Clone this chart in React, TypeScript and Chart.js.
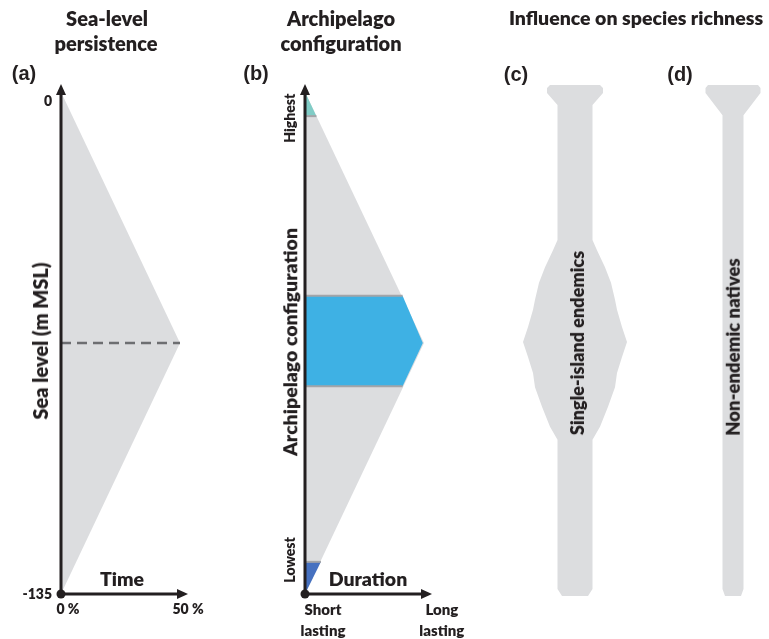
import React, { useEffect, useRef } from "react";
import { Chart, registerables } from "chart.js";

Chart.register(...registerables);

// ---------------- data ----------------
// (a) Sea-level persistence: % of time spent at each sea level (m MSL)
const seaLevelTicks = [0, -135];
const seaLevelTickLabels = ["0", "-135"];
const timeTicks = [0, 50];
const timeTickLabels = ["0 %", "50 %"];
const persistenceTime = [0, 0, 50];
const persistenceLevel = [-135, 0, -67.5];
const meanLevelTime = [0, 50];
const meanLevel = [-67.5, -67.5];

// (b) Archipelago configuration (0 = lowest, 1 = highest) vs duration (0 = short, 1 = long)
const configTickValues = [0.068, 0.948];
const configTickLabels = ["Lowest", "Highest"];
const durationTickValues = [0, 1.15];
const durationTickLabels = [
  ["Short", "lasting"],
  ["Long", "lasting"],
];
const allConfigDuration = [0, 0, 1];
const allConfigLevel = [0, 1, 0.5];
const highestDuration = [0, 0, 0.096];
const highestLevel = [0.952, 1, 0.952];
const intermediateDuration = [0, 0, 0.82, 0.99, 0.82];
const intermediateLevel = [0.414, 0.594, 0.594, 0.5, 0.414];
const lowestDuration = [0, 0, 0.134];
const lowestLevel = [0, 0.064, 0.064];
const boundaryLevels = [0.064, 0.414, 0.594, 0.952];
const boundaryDurations = [0.134, 0.82, 0.82, 0.096];

// (c) Single-island endemics: half-width of richness profile along configuration
const endemicLevel = [1.014, 1.008, 0.998, 0.974, 0.705, 0.685, 0.651, 0.62, 0.586, 0.566, 0.532, 0.502, 0.472, 0.44, 0.412, 0.373, 0.333, 0.307, 0.01, -0.004];
const endemicHalfWidth = [25, 28, 28, 17.5, 17.5, 22, 30, 36, 40, 42, 47, 52, 47, 42, 40, 33, 25, 17.5, 17.5, 13];

// (d) Non-endemic natives
const nativeLevel = [1.014, 1.008, 0.998, 0.954, 0.01, -0.004];
const nativeHalfWidth = [25, 27.5, 27.5, 10.5, 10.5, 8];

// ---------------- styles ----------------
const INK = "#231f20";
const GREY = "#dcdddf";
const TEAL = "#80ccc6";
const SKY = "#3eb1e4";
const NAVY = "#4671c0";
const SEAM = "#a3a5a8";
const DASH = "#6d6e71";
const FONT = 'Lato, "Open Sans", sans-serif';
const TAG_FONT = '"Liberation Sans", Arial, sans-serif';
const WEIGHT = 800;

const pts = (xs: number[], ys: number[]) => xs.map((x, i) => ({ x, y: ys[i] }));
const mirror = (levels: number[], half: number[]) => [
  ...levels.map((l, i) => ({ x: half[i], y: l })),
  ...levels.map((l, i) => ({ x: -half[i], y: l })).reverse(),
];

function area(data: any[], color: string, order: number) {
  return {
    data,
    showLine: true,
    fill: "shape",
    backgroundColor: color,
    borderColor: "rgba(0,0,0,0)",
    borderWidth: 0,
    pointRadius: 0,
    tension: 0,
    order,
  };
}

function rule(data: any[], color: string, width: number, order: number, dash: number[] = []) {
  return {
    data,
    showLine: true,
    fill: false,
    borderColor: color,
    borderWidth: width,
    borderDash: dash,
    pointRadius: 0,
    tension: 0,
    order,
  };
}

function baseOptions(x: [number, number], y: [number, number], padding: any) {
  return {
    responsive: false,
    animation: false,
    events: [],
    layout: { padding },
    plugins: { legend: { display: false }, tooltip: { enabled: false }, title: { display: false } },
    scales: {
      x: { type: "linear", display: false, min: x[0], max: x[1] },
      y: { type: "linear", display: false, min: y[0], max: y[1] },
    },
  };
}

function drawArrowAxes(chart: any, xo: number, yo: number, xEnd: number, yEnd: number) {
  const ctx = chart.ctx;
  const sx = chart.scales.x;
  const sy = chart.scales.y;
  const ox = sx.getPixelForValue(xo);
  const oy = sy.getPixelForValue(yo);
  const tx = sx.getPixelForValue(xEnd) + 8;
  const ty = sy.getPixelForValue(yEnd) - 8;
  ctx.save();
  ctx.strokeStyle = INK;
  ctx.fillStyle = INK;
  ctx.lineWidth = 3;
  ctx.beginPath();
  ctx.moveTo(ox, oy);
  ctx.lineTo(ox, ty + 8);
  ctx.stroke();
  ctx.beginPath();
  ctx.moveTo(ox, oy);
  ctx.lineTo(tx - 8, oy);
  ctx.stroke();
  ctx.beginPath();
  ctx.moveTo(ox, ty);
  ctx.lineTo(ox - 5, ty + 11);
  ctx.lineTo(ox + 5, ty + 11);
  ctx.closePath();
  ctx.fill();
  ctx.beginPath();
  ctx.moveTo(tx, oy);
  ctx.lineTo(tx - 11, oy - 5);
  ctx.lineTo(tx - 11, oy + 5);
  ctx.closePath();
  ctx.fill();
  ctx.beginPath();
  ctx.arc(ox, oy, 4.5, 0, Math.PI * 2);
  ctx.fill();
  ctx.restore();
  return { ox, oy };
}

const buildA = () => ({
  type: "scatter",
  data: {
    datasets: [
      rule(pts(meanLevelTime, meanLevel), DASH, 2.5, 1, [10, 6]),
      area(pts(persistenceTime, persistenceLevel), GREY, 2),
    ],
  },
  options: baseOptions([0, 50], [-137.7, 2.7], { left: 61, right: 70, top: 82, bottom: 35 }),
  plugins: [
    {
      id: "axesA",
      afterDatasetsDraw(chart: any) {
        const { ox, oy } = drawArrowAxes(chart, 0, -135, 50, 0);
        const ctx = chart.ctx;
        const sx = chart.scales.x;
        const sy = chart.scales.y;
        ctx.save();
        ctx.fillStyle = INK;
        ctx.font = `${WEIGHT} 14px ${FONT}`;
        ctx.textBaseline = "middle";
        ctx.textAlign = "right";
        seaLevelTicks.forEach((v, i) =>
          ctx.fillText(seaLevelTickLabels[i], ox - 9, sy.getPixelForValue(v) + (i === 0 ? 9 : 1))
        );
        ctx.textAlign = "center";
        timeTicks.forEach((v, i) =>
          ctx.fillText(timeTickLabels[i], sx.getPixelForValue(v) + (i === 0 ? 7 : 8), oy + 16)
        );
        ctx.restore();
      },
    },
  ],
});

const buildB = () => ({
  type: "scatter",
  data: {
    datasets: [
      ...boundaryLevels.map((l, i) => rule(pts([0, boundaryDurations[i]], [l, l]), SEAM, 2, 1)),
      area(pts(highestDuration, highestLevel), TEAL, 2),
      area(pts(intermediateDuration, intermediateLevel), SKY, 2),
      area(pts(lowestDuration, lowestLevel), NAVY, 2),
      area(pts(allConfigDuration, allConfigLevel), GREY, 3),
    ],
  },
  options: baseOptions([0, 1], [-0.02, 1.02], { left: 55, right: 76, top: 82, bottom: 35 }),
  plugins: [
    {
      id: "axesB",
      afterDatasetsDraw(chart: any) {
        const { ox, oy } = drawArrowAxes(chart, 0, 0, 1, 1);
        const ctx = chart.ctx;
        const sx = chart.scales.x;
        const sy = chart.scales.y;
        ctx.save();
        ctx.fillStyle = INK;
        ctx.textAlign = "center";
        ctx.textBaseline = "middle";
        ctx.font = `${WEIGHT} 14px ${FONT}`;
        configTickValues.forEach((v, i) => {
          ctx.save();
          ctx.translate(ox - 15, sy.getPixelForValue(v));
          ctx.rotate(-Math.PI / 2);
          ctx.fillText(configTickLabels[i], 0, 0);
          ctx.restore();
        });
        ctx.font = `${WEIGHT} 15px ${FONT}`;
        durationTickValues.forEach((v, i) => {
          const px = sx.getPixelForValue(v) + (i === 0 ? 18 : 0);
          durationTickLabels[i].forEach((line, j) => ctx.fillText(line, px, oy + 16 + j * 21));
        });
        ctx.restore();
      },
    },
  ],
});

const buildC = () => ({
  type: "scatter",
  data: { datasets: [area(mirror(endemicLevel, endemicHalfWidth), GREY, 1)] },
  options: baseOptions([-60, 60], [-0.02, 1.02], { left: 15, right: 15, top: 82, bottom: 35 }),
});

const buildD = () => ({
  type: "scatter",
  data: { datasets: [area(mirror(nativeLevel, nativeHalfWidth), GREY, 1)] },
  options: baseOptions([-30, 30], [-0.02, 1.02], { left: 43, right: 6, top: 82, bottom: 35 }),
});

function ChartCanvas({ left, width, build }: { left: number; width: number; build: () => any }) {
  const ref = useRef<HTMLCanvasElement>(null);
  useEffect(() => {
    const chart = new Chart(ref.current as HTMLCanvasElement, build());
    return () => chart.destroy();
  }, [build]);
  return (
    <canvas
      ref={ref}
      width={width}
      height={639}
      style={{ position: "absolute", left, top: 0, width, height: 639 }}
    />
  );
}

function Label({
  x,
  y,
  text,
  size,
  rotate = false,
  family = FONT,
  weight = WEIGHT,
}: {
  x: number;
  y: number;
  text: string;
  size: number;
  rotate?: boolean;
  family?: string;
  weight?: number;
}) {
  return (
    <div
      style={{
        position: "absolute",
        left: x,
        top: y,
        transform: `translate(-50%, -50%)${rotate ? " rotate(-90deg)" : ""}`,
        fontFamily: family,
        fontWeight: weight,
        fontSize: size,
        lineHeight: 1,
        whiteSpace: "nowrap",
        color: INK,
      }}
    >
      {text}
    </div>
  );
}

export default function App() {
  return (
    <div
      style={{
        position: "absolute",
        left: 0,
        top: 0,
        width: 769,
        height: 639,
        background: "#ffffff",
        overflow: "hidden",
      }}
    >
      <ChartCanvas left={0} width={250} build={buildA} />
      <ChartCanvas left={250} width={250} build={buildB} />
      <ChartCanvas left={500} width={150} build={buildC} />
      <ChartCanvas left={660} width={109} build={buildD} />

      <Label x={107} y={18} text="Sea-level" size={20} />
      <Label x={106} y={43} text="persistence" size={20} />
      <Label x={341} y={18} text="Archipelago" size={20} />
      <Label x={341} y={43} text="configuration" size={20} />
      <Label x={636} y={18} text="Influence on species richness" size={19.5} />

      <Label x={24} y={73} text="(a)" size={20} family={TAG_FONT} weight={700} />
      <Label x={256} y={73} text="(b)" size={20} family={TAG_FONT} weight={700} />
      <Label x={516} y={74} text="(c)" size={20} family={TAG_FONT} weight={700} />
      <Label x={680} y={74} text="(d)" size={20} family={TAG_FONT} weight={700} />

      <Label x={40} y={341} text="Sea level (m MSL)" size={20} rotate />
      <Label x={122} y={579} text="Time" size={19.5} />
      <Label x={290} y={342} text="Archipelago configuration" size={19.5} rotate />
      <Label x={368} y={579} text="Duration" size={19.5} />
      <Label x={577} y={343} text="Single-island endemics" size={18} rotate />
      <Label x={733} y={347} text="Non-endemic natives" size={18.5} rotate />
    </div>
  );
}
